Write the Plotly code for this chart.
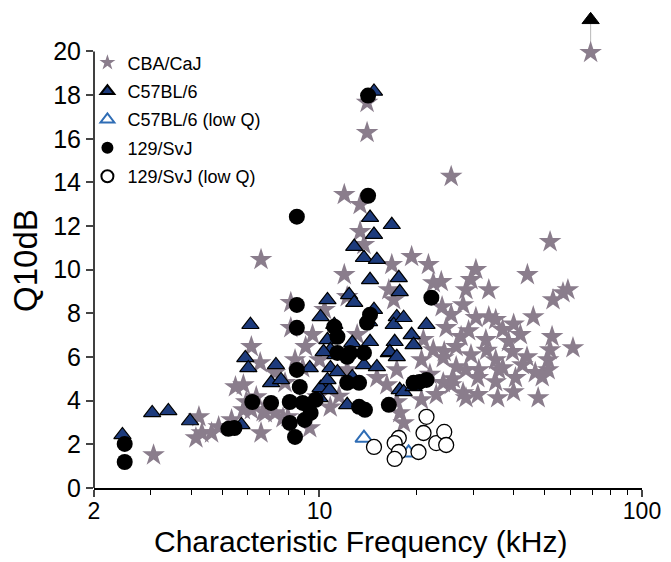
import plotly.graph_objects as go

# CBA/CaJ (stars)
cba_f = [69.3, 14.05, 14.05, 11.94, 13.37, 13.37, 19.31, 6.59, 25.61, 21.77, 30.55, 44.13, 51.88, 11.94,
         16.76, 13.74, 23.86, 22.54, 29.50, 33.50, 27.88, 52.98, 56.89, 58.92, 46.02, 30.55, 33.50, 35.19,
         27.49, 24.71, 32.80, 38.56, 52.62, 51.88, 39.68, 29.50, 24.37, 24.20, 35.19, 42.58, 51.17, 51.17,
         46.67, 35.95, 31.20, 28.46, 26.54, 30.98, 35.19, 40.53, 39.97, 35.69, 27.88, 30.98, 47.65, 24.20,
         49.04, 61.09, 28.46, 18.24, 3.06, 4.23, 4.32, 4.14, 4.63, 4.87, 5.34, 5.49, 5.81, 6.15, 6.55, 6.15,
         5.81, 5.93, 6.59, 6.79, 7.28, 7.71, 8.15, 8.15, 9.06, 7.28, 7.82, 9.86, 16.41, 16.99, 10.37, 12.19,
         9.52, 13.09, 15.07, 16.18, 17.37, 17.74, 17.37, 10.0, 12.19, 6.37, 6.69, 7.98, 8.87, 8.40, 9.33,
         20.72, 22.54, 23.02, 20.72, 25.61, 26.54, 25.61, 28.46, 36.98, 41.98,
         33.0, 37.0, 44.0, 40.0, 29.0, 26.0, 22.0, 21.0, 24.0, 10.8, 11.5]
cba_q = [19.95, 17.66, 16.28, 13.44, 12.98, 11.74, 10.60, 10.46, 14.27, 10.23, 10.0, 9.77, 11.28, 9.77,
         10.23, 11.15, 9.45, 9.40, 9.54, 9.08, 8.39, 8.62, 8.94, 9.08, 7.84, 7.80, 7.84, 7.71,
         6.93, 7.34, 6.79, 6.70, 6.93, 6.33, 6.24, 6.10, 6.24, 5.96, 5.87, 5.64, 5.87, 5.41,
         5.28, 5.41, 5.41, 5.41, 5.55, 5.05, 4.86, 5.05, 4.40, 4.13, 4.36, 4.27, 4.13, 4.82,
         5.09, 6.42, 4.13, 2.98, 1.51, 3.26, 2.52, 2.29, 2.52, 2.80, 3.12, 4.63, 4.72, 6.47, 5.73, 3.58,
         3.58, 3.94, 2.52, 3.44, 3.44, 3.21, 8.49, 7.34, 6.47, 5.28, 4.82, 4.17, 9.08, 8.62, 8.17, 8.76,
         7.02, 7.02, 5.05, 4.72, 5.41, 3.44, 3.94, 5.87, 5.41, 4.17, 3.49, 3.26, 5.50, 5.87, 2.75,
         5.87, 6.33, 4.27, 4.04, 4.72, 6.47, 7.94, 9.08, 7.25, 7.02,
         6.3, 5.5, 6.0, 7.5, 7.2, 5.0, 5.2, 6.8, 8.3, 3.7, 4.2]

# C57BL/6 (filled triangles)
b6_f = [2.45, 3.03, 3.40, 3.97, 5.73, 6.11, 5.89, 6.02, 7.33, 7.08, 7.60, 9.33, 10.59, 10.08, 10.44, 10.0,
        14.35, 16.76, 14.76, 12.82, 13.74, 15.07, 14.35, 17.62, 17.74, 12.36, 12.82, 14.76, 11.12, 17.37,
        14.76, 12.64, 14.35, 10.59, 10.82, 10.82, 13.74, 15.07, 16.41, 16.99, 10.08, 10.74, 12.19, 17.74,
        12.64, 21.47, 19.31, 19.58, 17.11, 16.52, 17.37, 14.25, 18.24, 18.24, 19.58, 10.59, 11.20, 11.37, 10.30]
b6_q = [2.43, 3.44, 3.53, 3.07, 2.89, 7.48, 5.96, 5.50, 5.64, 4.82, 4.95, 5.50, 8.62, 7.84, 4.63, 4.13,
        12.39, 12.06, 11.61, 11.06, 10.55, 10.46, 9.54, 9.63, 8.99, 8.85, 8.49, 8.17, 7.48, 7.84,
        18.17, 6.65, 6.70, 6.79, 6.33, 5.50, 5.64, 5.55, 6.19, 7.48, 4.59, 4.50, 3.81, 4.50,
        5.09, 7.48, 7.02, 6.56, 6.70, 6.24, 6.01, 7.61, 7.80, 4.40, 4.63, 4.95, 6.10, 5.32, 6.24]

# C57BL/6 (low Q) (open triangles)
b6low_f = [13.74, 18.90]
b6low_q = [2.29, 1.61]

# 129/SvJ (filled circles)
svj_f = [2.49, 2.49, 5.22, 5.45, 6.19, 7.08, 8.09, 8.09, 8.40, 8.51, 8.69, 8.87, 9.00, 9.39, 9.73, 8.51,
         8.51, 8.51, 14.15, 14.15, 22.23, 11.12, 11.37, 11.37, 12.45, 12.19, 13.74, 14.05, 14.35, 12.19,
         13.27, 13.84, 13.27, 16.41, 19.58, 20.42, 21.47]
svj_q = [2.02, 1.19, 2.71, 2.75, 3.94, 3.90, 3.94, 2.98, 2.34, 5.41, 4.63, 3.90, 3.12, 3.44, 4.04, 8.39,
         7.34, 12.43, 17.98, 13.39, 8.72, 7.39, 6.93, 6.19, 6.19, 6.01, 6.19, 7.57, 7.94, 4.82,
         4.82, 3.58, 3.72, 3.81, 4.82, 4.86, 4.95]

# 129/SvJ (low Q) (open circles)
svjlow_f = [14.76, 17.62, 17.11, 17.62, 17.11, 20.28, 21.02, 21.47, 23.02, 24.37, 24.71]
svjlow_q = [1.88, 2.29, 2.06, 1.65, 1.33, 1.65, 2.52, 3.26, 2.06, 2.57, 1.97]

# off-scale point (arrow up from 20)
off_f = [69.3]
off_q = [21.45]

x_ticks = [2, 10, 100]
x_minor = [3, 4, 5, 6, 7, 8, 9, 20, 30, 40, 50, 60, 70, 80, 90]
y_ticks = list(range(0, 21, 2))

FONT = "Liberation Sans, Arial, Helvetica, sans-serif"
STAR = "#8a7d8c"
NAVY = "#1d3b7c"

fig = go.Figure()

fig.add_trace(go.Scatter(x=[off_f[0], off_f[0]], y=[cba_q[0], off_q[0]], mode="lines",
                         line=dict(color="#b8b8b8", width=1), showlegend=False, hoverinfo="skip"))
fig.add_trace(go.Scatter(x=cba_f, y=cba_q, mode="markers", name="CBA/CaJ", legendgroup="a",
                         marker=dict(symbol="star", size=17, color=STAR, line=dict(width=0)),
                         cliponaxis=False))
fig.add_trace(go.Scatter(x=b6_f, y=b6_q, mode="markers", name="C57BL/6", legendgroup="b",
                         marker=dict(symbol="triangle-up", size=15, color=NAVY,
                                     line=dict(color="black", width=1.2)), cliponaxis=False))
fig.add_trace(go.Scatter(x=b6low_f, y=b6low_q, mode="markers", name="C57BL/6 (low Q)", legendgroup="c",
                         marker=dict(symbol="triangle-up", size=15, color="white",
                                     line=dict(color="#2f6db5", width=2)), cliponaxis=False))
fig.add_trace(go.Scatter(x=svj_f, y=svj_q, mode="markers", name="129/SvJ", legendgroup="d",
                         marker=dict(symbol="circle", size=16, color="black",
                                     line=dict(color="black", width=0)), cliponaxis=False))
fig.add_trace(go.Scatter(x=svjlow_f, y=svjlow_q, mode="markers", name="129/SvJ (low Q)", legendgroup="e",
                         marker=dict(symbol="circle", size=15, color="white",
                                     line=dict(color="black", width=1.3)), cliponaxis=False))
fig.add_trace(go.Scatter(x=off_f, y=off_q, mode="markers", showlegend=False,
                         marker=dict(symbol="triangle-up", size=15, color="black",
                                     line=dict(color="black", width=1)), cliponaxis=False))

fig.update_layout(
    width=671, height=562,
    margin=dict(l=94, r=26, t=10, b=74),
    plot_bgcolor="white", paper_bgcolor="white",
    font=dict(family=FONT, color="black"),
    legend=dict(x=-0.012, y=0.928, xanchor="left", yanchor="top", bgcolor="rgba(0,0,0,0)",
                font=dict(size=18, family=FONT), tracegroupgap=2, traceorder="grouped",
                itemsizing="constant"),
    xaxis=dict(type="log", range=[0.30103, 2.0], tickvals=x_ticks, ticktext=[str(v) for v in x_ticks],
               ticks="outside", ticklen=7, tickwidth=1.5, showline=True, linewidth=1.5, linecolor="black",
               showgrid=False, zeroline=False, tickfont=dict(size=23), ticklabelstandoff=-5,
               minor=dict(tickvals=x_minor, ticks="outside", ticklen=5, tickwidth=1.2, tickcolor="black",
                          showgrid=False)),
    yaxis=dict(range=[0, 21.9], tickvals=y_ticks, ticks="outside", ticklen=7, tickwidth=1.5,
               showline=False, showgrid=False, zeroline=False, tickfont=dict(size=25)),
    shapes=[dict(type="line", xref="paper", yref="y", x0=0, x1=0, y0=0, y1=20,
                 line=dict(color="black", width=1.5))],
    annotations=[
        dict(text="Characteristic Frequency (kHz)", xref="paper", yref="paper", x=0.487, y=-0.151,
             xanchor="center", yanchor="bottom", showarrow=False, font=dict(size=30)),
        dict(text="Q10dB", xref="paper", yref="paper", x=-0.124, y=0.475, textangle=-90,
             xanchor="center", yanchor="middle", showarrow=False, font=dict(size=33)),
    ],
)

fig.write_html("out.html")
